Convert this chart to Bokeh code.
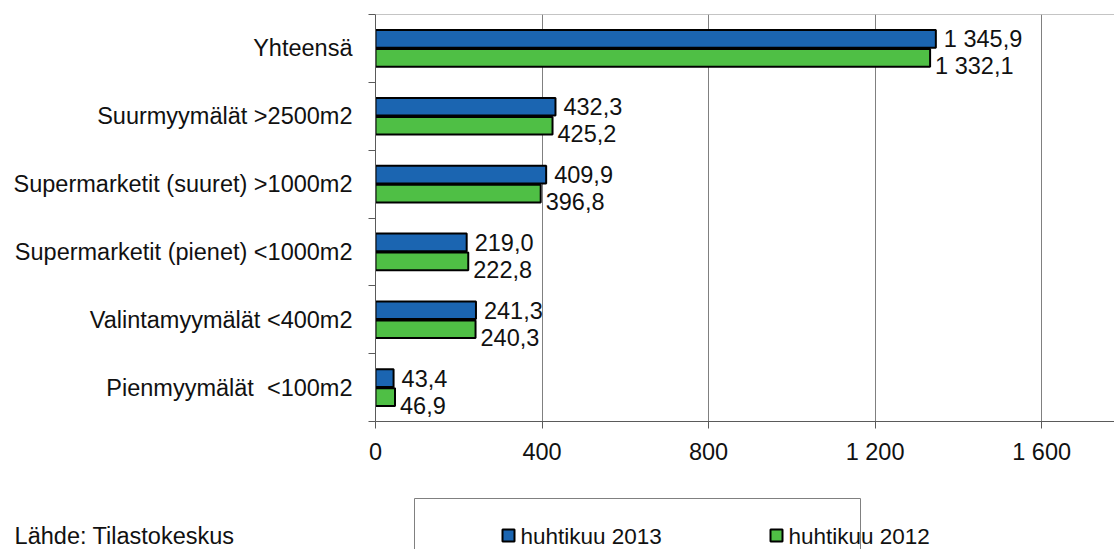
from bokeh.plotting import figure
from bokeh.models import Range1d, FixedTicker, Span, ColumnDataSource
from bokeh.layouts import column
from bokeh.core.properties import value
from bokeh.embed import file_html
from bokeh.resources import INLINE

# ---- data ----
categories = ["Yhteensä", "Suurmyymälät >2500m2", "Supermarketit (suuret) >1000m2",
              "Supermarketit (pienet) <1000m2", "Valintamyymälät <400m2", "Pienmyymälät\u00a0 <100m2"]
series = ["huhtikuu 2013", "huhtikuu 2012"]
values_2013 = [1345.9, 432.3, 409.9, 219.0, 241.3, 43.4]
values_2012 = [1332.1, 425.2, 396.8, 222.8, 240.3, 46.9]
x_ticks = [0, 400, 800, 1200, 1600]
source_text = "Lähde: Tilastokeskus"

colors = ["#1b65b1", "#4fbf45"]
FONT = "Liberation Sans"
FS = "23.5px"
TXT = "#111111"


def fi(v, dec=1):
    s = f"{v:,.{dec}f}"
    return s.replace(",", " ").replace(".", ",")


n = len(categories)
centers = [n - 1 - i for i in range(n)]  # top category highest
off = 0.14
bh = 0.26

# ---- main chart ----
p = figure(width=1114, height=480, output_backend="svg", toolbar_location=None,
           x_range=Range1d(0, 1775), y_range=Range1d(-0.5, n - 0.5),
           min_border_left=375, min_border_right=0, min_border_top=14, min_border_bottom=59)
p.outline_line_color = None
p.background_fill_color = "white"
p.border_fill_color = "white"

src13 = ColumnDataSource(dict(y=[c + off for c in centers], v=values_2013,
                              lab=[fi(v) for v in values_2013]))
src12 = ColumnDataSource(dict(y=[c - off for c in centers], v=values_2012,
                              lab=[fi(v) for v in values_2012]))

p.hbar(y="y", left=0, right="v", height=bh, source=src13, fill_color=colors[0],
       line_color="black", line_width=2)
p.hbar(y="y", left=0, right="v", height=bh, source=src12, fill_color=colors[1],
       line_color="black", line_width=2)

p.text(x="v", y="y", text="lab", source=src13, x_offset=8, y_offset=0,
       text_baseline="middle", text_align="left", text_font=value(FONT),
       text_font_size=FS, text_color=TXT)
p.text(x="v", y="y", text="lab", source=src12, x_offset=5, y_offset=8,
       text_baseline="middle", text_align="left", text_font=value(FONT),
       text_font_size=FS, text_color=TXT)

# top border line
p.add_layout(Span(location=n - 0.5, dimension="width", line_color="#8a8a8a", line_width=1))

xa = p.xaxis[0]
xa.ticker = FixedTicker(ticks=x_ticks)
xa.major_label_overrides = {t: fi(t, 0) for t in x_ticks}
xa.major_tick_out = 7
xa.major_tick_in = 0
xa.minor_tick_out = 0
xa.minor_tick_in = 0
xa.axis_line_color = "#5a5a5a"
xa.major_tick_line_color = "#5a5a5a"
xa.major_label_text_font = FONT
xa.major_label_text_font_size = FS
xa.major_label_text_color = TXT
xa.major_label_standoff = 10

ya = p.yaxis[0]
ya.ticker = FixedTicker(ticks=centers, minor_ticks=[b - 0.5 for b in range(n + 1)])
ya.major_label_overrides = {c: categories[i] for i, c in enumerate(centers)}
ya.major_tick_out = 0
ya.major_tick_in = 0
ya.major_tick_line_color = None
ya.minor_tick_out = 7
ya.minor_tick_in = 0
ya.minor_tick_line_color = "#5a5a5a"
ya.axis_line_color = "#5a5a5a"
ya.major_label_text_font = FONT
ya.major_label_text_font_size = FS
ya.major_label_text_color = TXT
ya.major_label_standoff = 16

p.xgrid.grid_line_color = "#808080"
p.xgrid.ticker = FixedTicker(ticks=x_ticks)
p.ygrid.grid_line_color = None

# ---- legend strip (x in page pixels, y in pixels up from the bottom) ----
p2 = figure(width=1114, height=69, output_backend="svg", toolbar_location=None,
            x_range=Range1d(375, 1114), y_range=Range1d(0, 69),
            min_border_left=375, min_border_right=0, min_border_top=0, min_border_bottom=0)
p2.outline_line_color = None
p2.grid.visible = False
p2.xaxis.visible = False
p2.background_fill_color = "white"
p2.border_fill_color = "white"

# legend frame
p2.quad(left=[414], right=[860], top=[51], bottom=[-20], fill_color=None,
        line_color="#808080", line_width=1)
# legend swatches and names
p2.rect(x=[508, 776], y=[14, 14], width=12, height=12, fill_color=colors,
        line_color="black", line_width=2)
p2.text(x=[520, 788], y=[13.5, 13.5], text=series, text_baseline="middle",
        text_font=value(FONT), text_font_size="22.5px", text_color=TXT)

# source note as the strip's single left-axis label
y2 = p2.yaxis[0]
y2.ticker = FixedTicker(ticks=[14])
y2.major_label_overrides = {14: source_text}
y2.axis_line_color = None
y2.major_tick_line_color = None
y2.minor_tick_line_color = None
y2.major_tick_out = 0
y2.major_label_standoff = 141
y2.major_label_text_font = FONT
y2.major_label_text_font_size = FS
y2.major_label_text_color = TXT

layout = column(p, p2, spacing=0)
open("out.html", "w").write(file_html(layout, INLINE))
